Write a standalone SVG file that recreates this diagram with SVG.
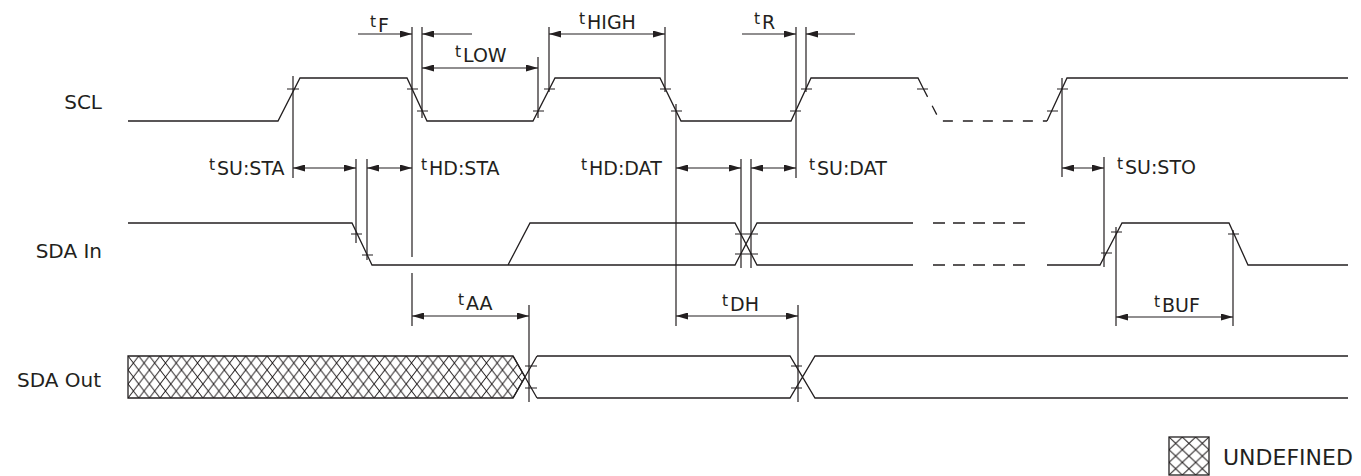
<svg xmlns="http://www.w3.org/2000/svg" width="1361" height="476" viewBox="0 0 1361 476">
<style>
.w{fill:none;stroke:#231f20;stroke-width:1.3;stroke-linejoin:miter}
.d{fill:none;stroke:#231f20;stroke-width:1.3;stroke-dasharray:12 8}
.ds{fill:none;stroke:#231f20;stroke-width:1.3;stroke-dasharray:10 10}
.v{fill:none;stroke:#231f20;stroke-width:1.2}
.a{fill:none;stroke:#231f20;stroke-width:1.2;marker-end:url(#ah)}
.a2{fill:none;stroke:#231f20;stroke-width:1.2;marker-start:url(#ah);marker-end:url(#ah)}
.row{font-family:"DejaVu Sans",sans-serif;font-size:20px;fill:#231f20;text-anchor:end}
.t{font-family:"DejaVu Sans",sans-serif;font-size:15.5px;fill:#231f20}
.s{font-size:19px}
.leg{font-family:"DejaVu Sans",sans-serif;font-size:22px;fill:#231f20}
</style>
<defs>
<marker id="ah" viewBox="0 0 12 7" refX="12" refY="3.5" markerWidth="12" markerHeight="7" markerUnits="userSpaceOnUse" orient="auto-start-reverse">
<path d="M0,0 L12,3.5 L0,7 z" fill="#231f20"/>
</marker>
<pattern id="hatch" patternUnits="userSpaceOnUse" x="128" y="356" width="10.7" height="14">
<path d="M0,0 L10.7,14 M10.7,0 L0,14" stroke="#231f20" stroke-width="1" fill="none"/>
</pattern>
<pattern id="hatch2" patternUnits="userSpaceOnUse" x="1169" y="437" width="13.33" height="12.7">
<path d="M0,0 L13.33,12.7 M13.33,0 L0,12.7" stroke="#231f20" stroke-width="1" fill="none"/>
</pattern>
</defs>

<g id="labels">
<text class="row" x="102" y="109">SCL</text>
<text class="row" x="102" y="258">SDA In</text>
<text class="row" x="101" y="387">SDA Out</text>
</g>

<g id="scl">
<path class="w" d="M128,121 L278,121 L300,78 L407,78 L427,121 L533,121 L555,78 L660,78 L681,121 L791,121 L811,78 L918,78 L923,88"/>
<path class="ds" d="M923,88 L940,121 L1047,121"/>
<path class="w" d="M1047,121 L1067,78 L1348,78"/>
<path class="v" d="M287,89 H299 M407,89 H418 M417,111 H428 M533,111 H544 M544,89 H555 M660,89 H671 M671,111 H682 M790,111 H801 M801,89 H812 M917,89 H928 M1047,111 H1058 M1057,89 H1068"/>
</g>

<g id="sda-in">
<path class="w" d="M128,223 L352,223 L372,265 L735,265 L757,223 L913,223 M508,265 L530,223 L735,223 L757,265 L913,265"/>
<path class="d" d="M933,223 L1025,223 M933,265 L1025,265"/>
<path class="w" d="M1047,265 L1100,265 L1122,223 L1229,223 L1248,265 L1348,265"/>
<path class="v" d="M351,234 H362 M362,255 H373 M735,234 H758 M735,254 H758 M1101,253 H1112 M1111,232 H1122 M1228,234 H1239"/>
</g>

<g id="sda-out">
<path d="M128,356 L513,356 L525,377 L513,398 L128,398 Z" fill="url(#hatch)" stroke="#231f20" stroke-width="1.3"/>
<path class="w" d="M513,356 L537,398 M513,398 L537,356 M537,356 L790,356 L815,398 L1348,398 M537,398 L790,398 L815,356 L1348,356"/>
<path class="v" d="M525,366 H537 M525,388 H537 M791,366 H802 M791,388 H802"/>
</g>

<g id="connectors">
<path class="v" d="M293,76 V178 M412,27 V257 M412,273 V326 M422,27 V118 M538,57 V118 M549,27 V92 M665,27 V92 M676,104 V326 M796,27 V178 M806,27 V92 M356,159 V243 M367,159 V260 M741,159 V268 M751,159 V268 M1062,78 V177 M1104,157 V267 M1116,227 V326 M1233,230 V326 M529,305 V402 M798,305 V402"/>
<path class="a" d="M358,34 H412"/>
<path class="a" d="M472,34 H422"/>
<path class="a2" d="M422,68 H538"/>
<path class="a2" d="M549,34 H665"/>
<path class="a" d="M742,34 H796"/>
<path class="a" d="M855,34 H806"/>
<path class="a2" d="M293,168 H356"/>
<path class="a2" d="M367,168 H412"/>
<path class="a2" d="M676,168 H741"/>
<path class="a2" d="M751,168 H796"/>
<path class="a2" d="M1062,168 H1104"/>
<path class="a2" d="M412,316 H529"/>
<path class="a2" d="M676,316 H798"/>
<path class="a2" d="M1116,317 H1233"/>
</g>

<g id="timing-labels">
<text class="t" x="370" y="27">t<tspan class="s" x="378" y="32">F</tspan></text>
<text class="t" x="455" y="57">t<tspan class="s" x="463" y="62">LOW</tspan></text>
<text class="t" x="579" y="24">t<tspan class="s" x="587" y="29">HIGH</tspan></text>
<text class="t" x="754" y="24">t<tspan class="s" x="762" y="29">R</tspan></text>
<text class="t" x="209" y="170">t<tspan class="s" x="217" y="175">SU:STA</tspan></text>
<text class="t" x="421" y="170">t<tspan class="s" x="429" y="175">HD:STA</tspan></text>
<text class="t" x="581" y="170">t<tspan class="s" x="589" y="175">HD:DAT</tspan></text>
<text class="t" x="809" y="170">t<tspan class="s" x="817" y="175">SU:DAT</tspan></text>
<text class="t" x="1117" y="169">t<tspan class="s" x="1125" y="174">SU:STO</tspan></text>
<text class="t" x="458" y="305">t<tspan class="s" x="466" y="310">AA</tspan></text>
<text class="t" x="722" y="306">t<tspan class="s" x="730" y="311">DH</tspan></text>
<text class="t" x="1154" y="307">t<tspan class="s" x="1162" y="312">BUF</tspan></text>
</g>

<g id="legend">
<rect x="1169" y="437" width="40" height="38" fill="url(#hatch2)" stroke="#231f20" stroke-width="1.3"/>
<text class="leg" x="1223" y="465">UNDEFINED</text>
</g>
</svg>
